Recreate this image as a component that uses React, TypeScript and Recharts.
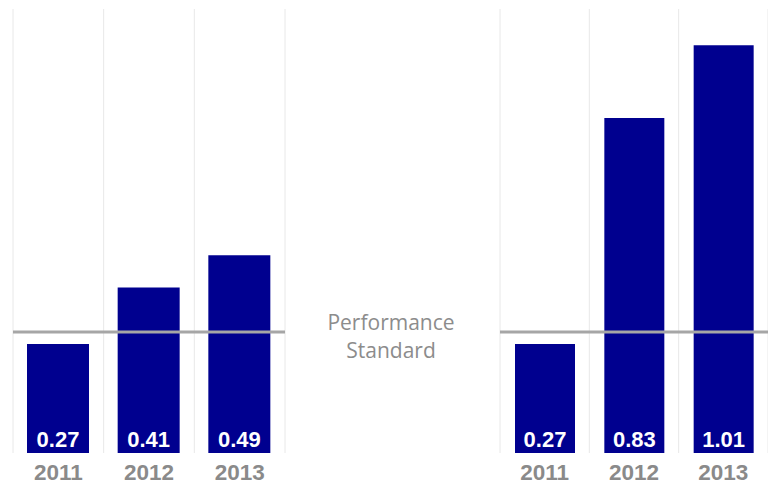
import React from "react";
import {
  BarChart,
  Bar,
  XAxis,
  YAxis,
  CartesianGrid,
  ReferenceLine,
  LabelList,
} from "recharts";

const years = ["2011", "2012", "2013"];
const leftValues = [0.27, 0.41, 0.49];
const rightValues = [0.27, 0.83, 1.01];
const performanceStandard = 0.3;
const yDomain = [0, 1.1];

const BAR_COLOR = "#00008f";
const GRID_COLOR = "#e8e8e8";
const STANDARD_COLOR = "#a6a6a6";

interface PanelProps {
  values: number[];
  left: number;
  width: number;
  marginLeft: number;
  marginRight: number;
  barSize: number;
}

// vertical lines sit on the category boundaries, not the centres
function boundaryLines({ offset }: any) {
  const step = offset.width / years.length;
  return Array.from({ length: years.length + 1 }, (_, i) => offset.left + i * step);
}

function Panel({ values, left, width, marginLeft, marginRight, barSize }: PanelProps) {
  const data = years.map((year, i) => ({ year, value: values[i] }));
  return (
    <div style={{ position: "absolute", left, top: 0 }}>
      <BarChart
        width={width}
        height={485}
        data={data}
        margin={{ top: 9, left: marginLeft, right: marginRight, bottom: 0 }}
      >
        <CartesianGrid
          horizontal={false}
          stroke={GRID_COLOR}
          verticalCoordinatesGenerator={boundaryLines}
        />
        <XAxis
          dataKey="year"
          axisLine={false}
          tickLine={false}
          height={32}
          tickMargin={5}
          tick={{
            fontSize: 22.5,
            fontWeight: 700,
            fill: "#8a8a8a",
            fontFamily: "Liberation Sans, Arial, sans-serif",
          }}
        />
        <YAxis hide domain={yDomain} />
        <Bar dataKey="value" fill={BAR_COLOR} barSize={barSize} isAnimationActive={false}>
          <LabelList
            dataKey="value"
            position="insideBottom"
            offset={6}
            formatter={(v: number) => v.toFixed(2)}
            style={{
              fill: "#ffffff",
              fontSize: 22,
              fontWeight: 700,
              fontFamily: "Liberation Sans, Arial, sans-serif",
            }}
          />
        </Bar>
        <ReferenceLine y={performanceStandard} stroke={STANDARD_COLOR} strokeWidth={3} />
      </BarChart>
    </div>
  );
}

export default function App() {
  return (
    <div
      style={{
        position: "fixed",
        left: 0,
        top: 0,
        width: 768,
        height: 485,
        overflow: "hidden",
        background: "#ffffff",
      }}
    >
      <Panel values={leftValues} left={0} width={300} marginLeft={13} marginRight={15} barSize={62} />
      <Panel values={rightValues} left={480} width={288} marginLeft={20} marginRight={0} barSize={60} />
      <div
        style={{
          position: "absolute",
          left: 291,
          top: 308,
          width: 200,
          textAlign: "center",
          fontFamily: "'Open Sans', sans-serif",
          fontSize: 21,
          lineHeight: "28px",
          color: "#8c8c8c",
        }}
      >
        Performance
        <br />
        Standard
      </div>
    </div>
  );
}
